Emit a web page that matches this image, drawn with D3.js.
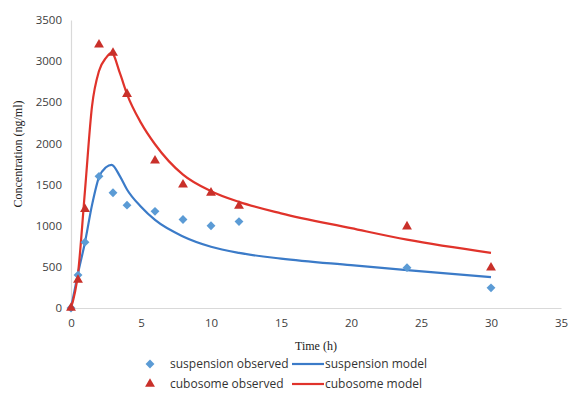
<!DOCTYPE html>
<html>
<head>
<meta charset="utf-8">
<script src="https://cdn.jsdelivr.net/npm/d3@7"></script>
<style>
  body { margin: 0; background: #fff; }
  .tick text { font-family: "Open Sans", sans-serif; font-size: 11.5px; fill: #404040; }
  .axis-label { font-family: "Liberation Serif", serif; font-size: 12px; fill: #222; }
  .legend text { font-family: "Open Sans", sans-serif; font-size: 12px; fill: #333; }
</style>
</head>
<body>
<div id="chart"></div>
<script>
// observed sampling times (h)
const obsTime = [0, 0.5, 1, 2, 3, 4, 6, 8, 10, 12, 24, 30];
const suspObs = [0, 400, 800, 1600, 1400, 1250, 1175, 1075, 1000, 1050, 490, 245];
const cuboObs = [0, 340, 1200, 3200, 3100, 2600, 1790, 1500, 1400, 1240, 990, 490];

// model curves
const modelTime = [0, 0.5, 1, 1.5, 2, 2.5, 2.9, 3.5, 4, 5, 6, 8, 10, 12, 15, 20, 24, 30];
const suspModel = [0, 420, 800, 1250, 1590, 1710, 1740, 1600, 1440, 1230, 1070, 870, 745, 670, 600, 520, 460, 375];
const cuboModel = [0, 420, 1430, 2450, 2880, 3040, 3100, 2850, 2600, 2250, 1990, 1620, 1420, 1290, 1150, 970, 830, 670];

const xTicks = [0, 5, 10, 15, 20, 25, 30, 35];
const yTicks = [0, 500, 1000, 1500, 2000, 2500, 3000, 3500];

const width = 572, height = 420;
const margin = { top: 20, right: 10, bottom: 112, left: 71 };
const innerWidth = width - margin.left - margin.right;
const innerHeight = height - margin.top - margin.bottom;

const blueLine = '#3b7bc8', blueMark = '#5b9bd5';
const redLine = '#e0332b', redMark = '#c9302a';

const svg = d3.select('#chart').append('svg')
  .attr('width', width)
  .attr('height', height);

const g = svg.append('g')
  .attr('transform', `translate(${margin.left},${margin.top})`);

const xScale = d3.scaleLinear().domain([0, 35]).range([0, 490]);
const yScale = d3.scaleLinear().domain([0, 3500]).range([innerHeight, 0]);

const xAxis = d3.axisBottom(xScale).tickValues(xTicks).tickFormat(d3.format('d')).tickSize(0).tickPadding(11);
const yAxis = d3.axisLeft(yScale).tickValues(yTicks).tickFormat(d3.format('d')).tickSize(0).tickPadding(9);

const xAxisG = g.append('g').attr('transform', `translate(0,${innerHeight})`).call(xAxis);
const yAxisG = g.append('g').call(yAxis);
xAxisG.select('.domain').attr('stroke', '#d9d9d9').attr('stroke-width', 1.2);
yAxisG.select('.domain').attr('stroke', '#d9d9d9').attr('stroke-width', 1.2);

// axis titles
g.append('text')
  .attr('class', 'axis-label')
  .attr('x', xScale(17.5))
  .attr('y', innerHeight + 42)
  .style('text-anchor', 'middle')
  .text('Time (h)');

g.append('text')
  .attr('class', 'axis-label')
  .attr('transform', `translate(${-margin.left + 22},${154 - margin.top}) rotate(-90)`)
  .style('text-anchor', 'middle')
  .text('Concentration (ng/ml)');

// model lines
const line = d3.line()
  .x(d => xScale(d[0]))
  .y(d => yScale(d[1]))
  .curve(d3.curveMonotoneX);

g.append('path')
  .attr('fill', 'none')
  .attr('stroke', blueLine)
  .attr('stroke-width', 2.2)
  .attr('d', line(d3.zip(modelTime, suspModel)));

g.append('path')
  .attr('fill', 'none')
  .attr('stroke', redLine)
  .attr('stroke-width', 2.2)
  .attr('d', line(d3.zip(modelTime, cuboModel)));

// observed markers
const diamond = d3.symbol().type(d3.symbolDiamond2).size(50);
const triangle = d3.symbol().type(d3.symbolTriangle).size(42);

g.selectAll('.susp').data(d3.zip(obsTime, suspObs)).enter().append('path')
  .attr('class', 'susp')
  .attr('d', diamond)
  .attr('fill', blueMark)
  .attr('transform', d => `translate(${xScale(d[0])},${yScale(d[1])})`);

g.selectAll('.cubo').data(d3.zip(obsTime, cuboObs)).enter().append('path')
  .attr('class', 'cubo')
  .attr('d', triangle)
  .attr('fill', redMark)
  .attr('transform', d => `translate(${xScale(d[0])},${yScale(d[1])})`);

// legend
const legend = svg.append('g').attr('class', 'legend');
const rows = [
  { y: 364, mark: diamond, mcol: blueMark, lcol: blueLine, obs: 'suspension observed', mod: 'suspension model' },
  { y: 384, mark: triangle, mcol: redMark, lcol: redLine, obs: 'cubosome observed', mod: 'cubosome model' }
];
rows.forEach(r => {
  legend.append('path')
    .attr('d', r.mark)
    .attr('fill', r.mcol)
    .attr('transform', `translate(150,${r.y})`);
  legend.append('text')
    .attr('x', 170).attr('y', r.y + 4)
    .text(r.obs);
  legend.append('line')
    .attr('x1', 292).attr('x2', 324)
    .attr('y1', r.y).attr('y2', r.y)
    .attr('stroke', r.lcol)
    .attr('stroke-width', 2.2);
  legend.append('text')
    .attr('x', 325).attr('y', r.y + 4)
    .text(r.mod);
});
</script>
</body>
</html>
